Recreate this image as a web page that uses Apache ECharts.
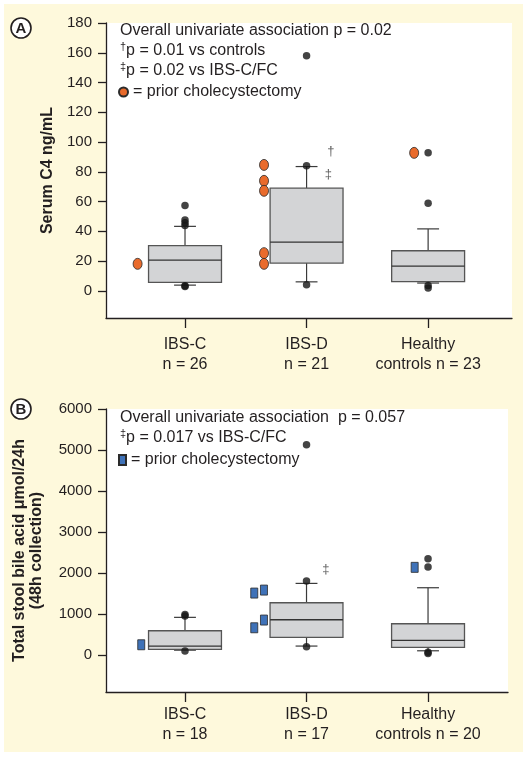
<!DOCTYPE html>
<html>
<head>
<meta charset="utf-8">
<script src="https://cdn.jsdelivr.net/npm/echarts@6/dist/echarts.min.js"></script>
<style>html,body{margin:0;padding:0;background:#fff}#c{width:529px;height:757px}</style>
</head>
<body>
<div id="c"></div>
<script>
// ---------- DATA ----------
const categoriesA = ['IBS-C\nn = 26', 'IBS-D\nn = 21', 'Healthy\ncontrols n = 23'];
const categoriesB = ['IBS-C\nn = 18', 'IBS-D\nn = 17', 'Healthy\ncontrols n = 20'];
const yTicksA = [0, 20, 40, 60, 80, 100, 120, 140, 160, 180];
const yTicksB = [0, 1000, 2000, 3000, 4000, 5000, 6000];

// box stats: [min whisker, Q1, median, Q3, max whisker]
const boxA = [
  [3.8, 5.6, 20.6, 30.4, 43.3],
  [6.0, 18.6, 32.7, 69.0, 83.5],
  [5.2, 6.2, 16.6, 26.9, 41.6]
];
const boxB = [
  [120, 138, 220, 593, 920],
  [220, 431, 862, 1276, 1748],
  [105, 188, 358, 764, 1642]
];
// other observations (black dots): [group index, value]
const dotsA = [
  [0, 57.3], [0, 47.5], [0, 45.8], [0, 43.8], [0, 3.4], [0, 2.8],
  [1, 158], [1, 84], [1, 4],
  [2, 92.7], [2, 58.9], [2, 3.6], [2, 1.9]
];
const dotsB = [
  [0, 990], [0, 950], [0, 98],
  [1, 5130], [1, 1805], [1, 203],
  [2, 2350], [2, 2150], [2, 70], [2, 40]
];
// prior cholecystectomy: [group index, value]
const choleA = [[0, 18.1], [1, 84.6], [1, 73.9], [1, 67.2], [1, 25.3], [1, 18.1], [2, 92.7]];
const choleB = [[0, 252], [1, 1512], [1, 1585], [1, 666], [1, 854], [2, 2139]];
// significance markers: [group index, value, symbol]
const marksA = [[1, 94, '†'], [1, 78, '‡']];
const marksB = [[1, 2090, '‡']];

// ---------- LAYOUT (not data) ----------
const choleJitterA = [-0.39, -0.35, -0.35, -0.35, -0.35, -0.35, -0.115];
const choleJitterB = [-0.36, -0.43, -0.35, -0.43, -0.35, -0.11];
const markShiftA = [0.2, 0.18];
const markShiftB = [0.16];

const FONT = 'Liberation Sans';
const INK = '#231F20';

function boxRender(params, api) {
  const x = api.value(0);
  const pMin = api.coord([x, api.value(1)]);
  const pQ1 = api.coord([x, api.value(2)]);
  const pMed = api.coord([x, api.value(3)]);
  const pQ3 = api.coord([x, api.value(4)]);
  const pMax = api.coord([x, api.value(5)]);
  const half = api.size([0.3, 0])[0];
  const cap = api.size([0.09, 0])[0];
  const ls = { stroke: '#3a3a3a', lineWidth: 1.2 };
  return {
    type: 'group',
    children: [
      { type: 'line', shape: { x1: pQ3[0], y1: pQ3[1], x2: pMax[0], y2: pMax[1] }, style: ls },
      { type: 'line', shape: { x1: pQ1[0], y1: pQ1[1], x2: pMin[0], y2: pMin[1] }, style: ls },
      { type: 'line', shape: { x1: pMax[0] - cap, y1: pMax[1], x2: pMax[0] + cap, y2: pMax[1] }, style: ls },
      { type: 'line', shape: { x1: pMin[0] - cap, y1: pMin[1], x2: pMin[0] + cap, y2: pMin[1] }, style: ls },
      { type: 'rect', shape: { x: pQ3[0] - half, y: pQ3[1], width: half * 2, height: pQ1[1] - pQ3[1] },
        style: { fill: '#D3D4D6', stroke: '#555555', lineWidth: 1.3 } },
      { type: 'line', shape: { x1: pMed[0] - half, y1: pMed[1], x2: pMed[0] + half, y2: pMed[1] }, style: { stroke: '#333', lineWidth: 1.3 } }
    ]
  };
}

function xAxisFor(gridIndex, cats, max) {
  return {
    gridIndex, type: 'value', min: 0.35, max: max,
    axisLine: { show: true, onZero: false, lineStyle: { color: INK, width: 1.3 } },
    axisTick: { show: true, customValues: [1, 2, 3], length: 10, lineStyle: { color: INK, width: 1.3 } },
    axisLabel: { customValues: [1, 2, 3], formatter: v => cats[Math.round(v) - 1],
      fontFamily: FONT, fontSize: 16, lineHeight: 20, color: INK, margin: gridIndex === 0 ? 17 : 13 },
    splitLine: { show: false }
  };
}
function yAxisFor(gridIndex, ticks, min, max) {
  return {
    gridIndex, type: 'value', min, max,
    axisLine: { show: true, onZero: false, lineStyle: { color: INK, width: 1.3 } },
    axisTick: { show: true, customValues: ticks, length: 8, lineStyle: { color: INK, width: 1.3 } },
    axisLabel: { customValues: ticks, formatter: v => String(v), fontFamily: FONT, fontSize: 15, color: INK, margin: 14 },
    splitLine: { show: false }
  };
}

const series = [];
[[boxA, dotsA, choleA, choleJitterA, marksA, markShiftA, 'circle', [9, 11], '#E96B2C'],
 [boxB, dotsB, choleB, choleJitterB, marksB, markShiftB, 'rect', [7, 10], '#3F72B8']].forEach((p, gi) => {
  const [box, dots, chole, jit, marks, mshift, sym, symSize, col] = p;
  series.push({
    type: 'custom', xAxisIndex: gi, yAxisIndex: gi, renderItem: boxRender,
    encode: { x: 0, y: [1, 2, 3, 4, 5] },
    data: box.map((s, i) => [i + 1].concat(s)), z: 2
  });
  series.push({
    type: 'scatter', xAxisIndex: gi, yAxisIndex: gi, symbol: 'circle', symbolSize: 7.5,
    itemStyle: { color: '#151515' },
    data: dots.map(d => [d[0] + 1, d[1]]), z: 3
  });
  series.push({
    name: gi === 0 ? 'choleA' : 'choleB',
    type: 'scatter', xAxisIndex: gi, yAxisIndex: gi, symbol: sym, symbolSize: symSize,
    itemStyle: { color: col, borderColor: '#2b2b2b', borderWidth: 0.8, opacity: 1 },
    data: chole.map((d, i) => [d[0] + 1 + jit[i], d[1]]), z: 4
  });
  series.push({
    type: 'scatter', xAxisIndex: gi, yAxisIndex: gi, symbol: 'circle', symbolSize: 1,
    itemStyle: { color: 'rgba(0,0,0,0)' },
    label: { show: true, position: 'inside', formatter: q => q.data[2], fontFamily: FONT, fontSize: 13, color: '#333' },
    data: marks.map((m, i) => [m[0] + 1 + mshift[i], m[1], m[2]]), z: 4
  });
});

function panelLetter(letter, cx, cy) {
  return {
    type: 'group', x: cx, y: cy, children: [
      { type: 'circle', shape: { cx: 0, cy: 0, r: 10 }, style: { fill: '#fff', stroke: INK, lineWidth: 1.6 } },
      { type: 'text', x: 0, y: 1, style: { text: letter, fontFamily: FONT, fontWeight: 'bold', fontSize: 15, fill: INK, align: 'center', verticalAlign: 'middle' } }
    ]
  };
}
function note(x, y, text) {
  return {
    type: 'text', x, y, z: 10,
    style: {
      text, fontFamily: FONT, fontSize: 16, fill: INK, verticalAlign: 'middle', lineHeight: 20,
      rich: {
        n: { fontFamily: FONT, fontSize: 16, lineHeight: 20 },
        s: { fontFamily: FONT, fontSize: 11, lineHeight: 13, verticalAlign: 'top' }
      }
    }
  };
}

const option = {
  animation: false,
  backgroundColor: '#ffffff',
  grid: [
    { left: 106, top: 23, width: 406, height: 295, show: true, backgroundColor: '#ffffff', borderWidth: 0, outerBoundsMode: 'none', containLabel: false },
    { left: 106, top: 409, width: 402, height: 283, show: true, backgroundColor: '#ffffff', borderWidth: 0, outerBoundsMode: 'none', containLabel: false }
  ],
  xAxis: [xAxisFor(0, categoriesA, 3.69), xAxisFor(1, categoriesB, 3.658)],
  yAxis: [
    Object.assign(yAxisFor(0, yTicksA, -18.3, 180), {
      name: 'Serum C4 ng/mL', nameLocation: 'middle', nameGap: 48, nameRotate: 90,
      nameTextStyle: { fontFamily: FONT, fontWeight: 'bold', fontSize: 16, color: INK, padding: [0, 0, -30, 0] }
    }),
    Object.assign(yAxisFor(1, yTicksB, -900, 6000), {
      name: 'Total stool bile acid μmol/24h\n(48h collection)', nameLocation: 'middle', nameGap: 61, nameRotate: 90,
      nameTextStyle: { fontFamily: FONT, fontWeight: 'bold', fontSize: 16, lineHeight: 17, color: INK, align: 'center' }
    })
  ],
  legend: [
    { data: ['choleA'], left: 118, top: 84, padding: 0, icon: 'circle', symbolKeepAspect: false,
      itemWidth: 9, itemHeight: 11, selectedMode: false, formatter: () => '= prior cholecystectomy',
      textStyle: { fontFamily: FONT, fontSize: 16, color: INK } },
    { data: ['choleB'], left: 118, top: 452, padding: 0, icon: 'rect', symbolKeepAspect: false,
      itemWidth: 7, itemHeight: 10, selectedMode: false, formatter: () => '= prior cholecystectomy',
      textStyle: { fontFamily: FONT, fontSize: 16, color: INK } }
  ],
  graphic: [
    { type: 'rect', z: -100, shape: { x: 4, y: 4, width: 519, height: 748 }, style: { fill: '#FEF9DC' } },
    panelLetter('A', 21, 28),
    panelLetter('B', 21, 409),
    note(120, 31, 'Overall univariate association p = 0.02'),
    note(120, 51, '{s|†}{n|p = 0.01 vs controls}'),
    note(120, 71, '{s|‡}{n|p = 0.02 vs IBS-C/FC}'),
    note(120, 418, 'Overall univariate association  p = 0.057'),
    note(120, 438, '{s|‡}{n|p = 0.017 vs IBS-C/FC}')
  ],
  series
};
const chart = echarts.init(document.getElementById('c'), null, { renderer: 'canvas' });
chart.setOption(option);
</script>
</body>
</html>
